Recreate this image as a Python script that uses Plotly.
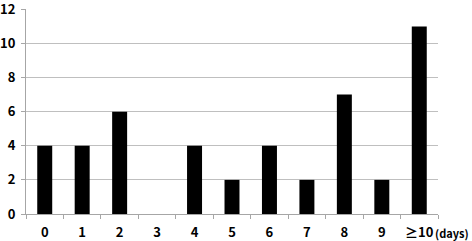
import plotly.graph_objects as go

categories = ["0", "1", "2", "3", "4", "5", "6", "7", "8", "9", "≥10"]
values = [4, 4, 6, 0, 4, 2, 4, 2, 7, 2, 11]
y_ticks = [0, 2, 4, 6, 8, 10, 12]

font_family = "Noto Sans CJK KR, DejaVu Sans, sans-serif"

fig = go.Figure(go.Bar(x=categories, y=values, marker=dict(color="black", line=dict(width=0)), width=0.4,
                       hoverinfo="skip"))

fig.update_layout(
    width=472, height=241,
    margin=dict(l=26, r=34, t=9, b=27, autoexpand=False),
    paper_bgcolor="white", plot_bgcolor="white",
    showlegend=False,
    font=dict(family=font_family, size=12, color="black"),
)
fig.update_xaxes(
    type="category", showline=True, linecolor="#a6a6a6", linewidth=1,
    ticks="outside", tickson="boundaries", ticklen=4, tickcolor="#a6a6a6",
    tickfont=dict(family=font_family, size=13, color="black", weight="bold"),
    showgrid=False, automargin=False, ticklabelstandoff=6, ticklabeloverflow="allow",
    tickangle=0,
)
fig.update_yaxes(
    range=[0, 12.02], tickvals=y_ticks, showline=True, linecolor="#a6a6a6", linewidth=1,
    ticks="outside", ticklen=4, tickcolor="#a6a6a6",
    tickfont=dict(family=font_family, size=13, color="black", weight="bold"),
    showgrid=True, gridcolor="#bfbfbf", gridwidth=1, zeroline=False, automargin=False,
    ticklabelstandoff=3, ticklabeloverflow="allow",
)
fig.add_annotation(text="(days)", xref="paper", yref="paper", x=1.0, y=0, xanchor="left", yanchor="middle",
                   yshift=-19, xshift=-5, showarrow=False,
                   font=dict(family=font_family, size=11, color="black", weight="bold"))

fig.write_html("out.html", config={"displayModeBar": False},
               post_script="document.body.style.margin='0';")
